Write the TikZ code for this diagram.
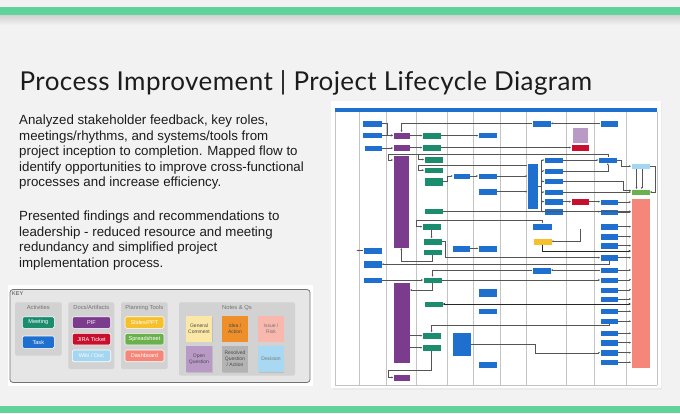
\documentclass[tikz,border=0pt]{standalone}
\usepackage{fontspec}
\setmainfont{Liberation Sans}
\newfontfamily\titlefont[LetterSpace=1.6]{Lato}
\usetikzlibrary{arrows.meta,shadows}
\definecolor{bgc}{HTML}{F2F2F2}
\definecolor{grn}{HTML}{5FD39A}
\definecolor{dblue}{HTML}{1F6FCF}
\definecolor{dteal}{HTML}{1B8C6E}
\definecolor{dpurp}{HTML}{7B3C8E}
\definecolor{dred}{HTML}{C8102E}
\definecolor{dlblue}{HTML}{A4D6F2}
\definecolor{dyel}{HTML}{F6C02C}
\definecolor{dgrn}{HTML}{6AB04C}
\definecolor{dsal}{HTML}{F4877A}
\definecolor{dlil}{HTML}{B99AC6}
\definecolor{lanec}{HTML}{C4C4C4}
\definecolor{linec}{HTML}{555555}
\definecolor{txtc}{HTML}{1C1C1C}
\definecolor{keyfill}{HTML}{E6E6E6}
\definecolor{grpc}{HTML}{D2D2D2}
\definecolor{nyel}{HTML}{FBE8A6}
\definecolor{norg}{HTML}{EF8F2A}
\definecolor{npink}{HTML}{F9B8AD}
\definecolor{ngray}{HTML}{B3B3B3}
\definecolor{nblue}{HTML}{A9D9F2}
\newcommand\rbx[7]{\node[#2, minimum width={(#5-#3)*1pt}, minimum height={(#6-#4)*1pt}] (#1) at ({(#3+#5)/2},{(#4+#6)/2}) {#7};}
\tikzset{
 box/.style={draw=white, line width=0.3pt, inner sep=0pt, outer sep=0pt},
 bl/.style={box, fill=dblue}, tl/.style={box, fill=dteal}, pu/.style={box, fill=dpurp},
 rd/.style={box, fill=dred}, lbx/.style={box, fill=dlblue}, ye/.style={box, fill=dyel},
 gr/.style={box, fill=dgrn}, sa/.style={box, fill=dsal}, li/.style={box, fill=dlil},
 ln/.style={draw=linec, line width=0.35pt},
 ar/.style={ln, -{Stealth[length=2pt,width=1.8pt]}},
 thk/.style={draw=black!85, line width=0.8pt},
 lane/.style={draw=lanec, line width=0.45pt},
 kbtn/.style={draw=white, line width=0.6pt, rounded corners=1.5pt, inner sep=0pt, text=white, font=\fontsize{5.6}{6}\selectfont},
 knote/.style={inner sep=0pt, align=center, text=black!70, font=\fontsize{5}{6}\selectfont, drop shadow={shadow xshift=0.6pt, shadow yshift=-0.6pt, opacity=0.25}},
 kgrp/.style={fill=grpc, rounded corners=2pt, inner sep=0pt},
 klab/.style={text=black!55, font=\fontsize{5.8}{7}\selectfont, inner sep=0pt},
 para/.style={anchor=base west, inner sep=0pt, text=txtc, font=\fontsize{13.3}{15.7}\selectfont},
}
\begin{document}
\begin{tikzpicture}[x=1pt,y=-1pt]
\useasboundingbox (0,0) rectangle (680,413);
\fill[bgc] (0,0) rectangle (680,413);
% top and bottom bars
\fill[grn] (0,7) rectangle (680,15);
\shade[top color=black!18, bottom color=bgc] (0,15) rectangle (680,25);
\fill[grn] (0,406) rectangle (680,413);

% title
\node[anchor=base west, inner sep=0pt, text=txtc, font=\titlefont\fontsize{26}{30}\selectfont] (title) at (19.5,90.7) {Process Improvement | Project Lifecycle Diagram};

% paragraphs
\node[para] (t1) at (19,124.5) {Analyzed stakeholder feedback, key roles,};
\node[para] (t2) at (19,140.1) {meetings/rhythms, and systems/tools from};
\node[para] (t3) at (19,155.7) {project inception to completion. Mapped flow to};
\node[para] (t4) at (19,171.3) {identify opportunities to improve cross-functional};
\node[para] (t5) at (19,186.9) {processes and increase efficiency.};
\node[para] (t6) at (19,220.5) {Presented findings and recommendations to};
\node[para] (t7) at (19,236.1) {leadership - reduced resource and meeting};
\node[para] (t8) at (19,251.7) {redundancy and simplified project};
\node[para] (t9) at (19,267.3) {implementation process.};

% ---------- KEY ----------
\fill[white] (8,285) rectangle (313,386);
\draw[fill=keyfill, draw=black!55, line width=0.8pt, rounded corners=3pt] (10,289.5) rectangle (310,382.5);
\node[anchor=west, inner sep=0pt, text=black!75, font=\fontsize{5.5}{6}\selectfont] (keylab) at (12,293.8) {KEY};
\fill[kgrp] (15,302.3) rectangle (61.7,355.7);
\fill[kgrp] (68.3,302.3) rectangle (114.3,369);
\fill[kgrp] (121,302.3) rectangle (167.7,369);
\fill[kgrp] (179,302.3) rectangle (295,375.7);
\node[klab] (l1) at (38.3,307.7) {Activities};
\node[klab] (l2) at (91.3,307.7) {Docs/Artifacts};
\node[klab] (l3) at (144.3,307.7) {Planning Tools};
\node[klab] (l4) at (237,307.7) {Notes \& Qs};
\rbx{kmeet}{kbtn, fill=dteal}{22.3}{316.7}{54.3}{328.3}{Meeting}
\rbx{ktask}{kbtn, fill=dblue}{22.3}{336}{54.3}{348.3}{Task}
\rbx{kpif}{kbtn, fill=dpurp}{72.3}{316.7}{110.7}{328.3}{PIF}
\rbx{kjira}{kbtn, fill=dred}{72.3}{333.3}{110.7}{345}{JIRA Ticket}
\rbx{kwiki}{kbtn, fill=dlblue}{72.3}{350}{110.7}{361.7}{Wiki / Doc}
\rbx{kslide}{kbtn, fill=dyel}{125}{316.7}{164}{328.3}{Slides/PPT}
\rbx{ksheet}{kbtn, fill=dgrn}{125}{333.3}{164}{345}{Spreadsheet}
\rbx{kdash}{kbtn, fill=dsal}{125}{350}{164}{361.7}{Dashboard}
\rbx{ngen}{knote, fill=nyel}{186}{316}{212}{341.7}{General\\Comment}
\rbx{nidea}{knote, fill=norg}{222.3}{316}{247.7}{341.7}{Idea /\\Action}
\rbx{nissue}{knote, fill=npink, text=black!55}{258.3}{316}{283.7}{341.7}{Issue /\\Risk}
\rbx{nopen}{knote, fill=dlil}{186}{345.7}{212}{372.3}{Open\\Question}
\rbx{nres}{knote, fill=ngray}{222.3}{345.7}{247.7}{372.3}{Resolved\\Question\\/ Action}
\rbx{ndec}{knote, fill=nblue, text=black!55}{258.3}{345.7}{283.7}{372.3}{Decision}

% ---------- DIAGRAM ----------
\fill[black!8] (332.5,102.5) rectangle (662,389.5);
\fill[white] (331,101) rectangle (660.5,388);
\fill[dblue] (335,107.7) rectangle (657,111.7);
\foreach \x in {335,359.2,386.5,415.8,447.4,473.4,499.8,525.8,566,594.5,625.9,657}
  \draw[lane] (\x,111.7) -- (\x,385);
\draw[lane] (335,385) -- (657,385);

% lane 2
\rbx{a1}{bl}{362}{120}{382}{126.7}{}
\rbx{a2}{bl}{362}{132.3}{382}{138.3}{}
\rbx{a3}{bl}{364}{145}{382}{151}{}
\rbx{a4}{bl}{362.7}{246.7}{381.7}{254.3}{}
\rbx{a5}{bl}{362.7}{260}{381.7}{268.3}{}
\rbx{a6}{bl}{362.7}{276.7}{381.7}{283.3}{}
% lane 3
\rbx{p1}{pu}{393}{132}{410}{139}{}
\rbx{p2}{pu}{393}{144.3}{410}{150.7}{}
\rbx{p3}{pu}{393}{155}{409.5}{248}{}
\rbx{p4}{pu}{393.3}{281.7}{410}{362.7}{}
\rbx{p5}{pu}{393.3}{373.7}{410}{381}{}
% lane 4
\rbx{g1}{tl}{422.3}{132.3}{441}{139}{}
\rbx{g2}{tl}{422.3}{144.3}{441}{150.7}{}
\rbx{g3}{tl}{424}{156.3}{442.7}{162.7}{}
\rbx{g4}{tl}{424}{167}{442.7}{173.3}{}
\rbx{g5}{tl}{424}{177.3}{442.7}{186}{}
\rbx{g6}{tl}{424}{208.3}{442.7}{214.3}{}
\rbx{g7}{tl}{422.3}{223.3}{441}{230}{}
\rbx{g8}{tl}{422.7}{238.3}{441.7}{245}{}
\rbx{g9}{tl}{422.7}{249}{441.7}{255}{}
\rbx{g10}{tl}{423}{276.7}{442}{283.3}{}
\rbx{g11}{tl}{424}{300.7}{442.7}{307.3}{}
\rbx{g12}{tl}{422.3}{332.3}{441}{339}{}
\rbx{g13}{tl}{422.3}{344.3}{441}{351}{}
% lane 5
\rbx{c1}{bl}{452.7}{172.7}{470}{179.3}{}
\rbx{c2}{bl}{451.7}{245}{470}{251.7}{}
\rbx{c3}{bl}{451.7}{331.7}{470.7}{355.7}{}
% lane 6
\rbx{d1}{bl}{478.3}{132.3}{497.3}{138.3}{}
\rbx{d2}{bl}{478}{172.7}{497}{179.3}{}
\rbx{d3}{bl}{478}{188.3}{497}{195}{}
\rbx{d4}{bl}{478.3}{245}{497.3}{251.7}{}
\rbx{d5}{bl}{478.3}{288.3}{497.3}{296.7}{}
\rbx{d6}{bl}{478.3}{308.3}{497.3}{314.3}{}
\rbx{d7}{bl}{478.3}{361}{497.3}{367.7}{}
% lane 8
\rbx{e1}{bl}{531.7}{120}{551}{126.7}{}
\rbx{e2}{bl}{527.3}{163.3}{538.3}{209}{}
\rbx{e3}{bl}{544.3}{156.7}{563.3}{163.3}{}
\rbx{e4}{bl}{544.3}{167.7}{563.3}{174}{}
\rbx{e5}{bl}{544.3}{178.3}{563.3}{184.3}{}
\rbx{e6}{bl}{544.3}{189}{563.3}{195}{}
\rbx{e7}{bl}{544.3}{198.3}{563.3}{205}{}
\rbx{e8}{bl}{544.3}{208.3}{563.3}{215}{}
\rbx{e9}{bl}{532.3}{223.3}{551.7}{230}{}
\rbx{e10}{ye}{532.7}{237.7}{551.7}{244.7}{}
\rbx{e11}{bl}{532.3}{266.7}{551}{274.3}{}
% lane 9
\rbx{f1}{li}{571.7}{126.7}{588.3}{143.3}{}
\rbx{f2}{rd}{571}{144.3}{589.3}{150.7}{}
\rbx{f3}{rd}{571}{198.3}{589.3}{205}{}
% lane 10
\rbx{h1}{bl}{600}{120}{618.3}{126.7}{}
\rbx{h2}{bl}{598.3}{156.7}{617.3}{163.3}{}
\rbx{h3}{bl}{600}{199}{618.3}{205}{}
\rbx{h4}{bl}{600}{209}{618.3}{215}{}
\rbx{h5}{bl}{600}{223.3}{618.3}{230}{}
\rbx{h6}{bl}{600}{233.3}{618.3}{240}{}
\rbx{h7}{bl}{600}{242.3}{618.3}{249}{}
\rbx{h8}{bl}{600}{254.3}{618.3}{261}{}
\rbx{h9}{bl}{600}{267}{618.3}{273}{}
\rbx{h10}{bl}{600}{276.7}{618.3}{282.7}{}
\rbx{h11}{bl}{600}{286.7}{618.3}{292.7}{}
\rbx{h12}{bl}{600}{296}{618.3}{302}{}
\rbx{h13}{bl}{600}{308.3}{618.3}{314.3}{}
\rbx{h14}{bl}{600}{318.3}{618.3}{324.3}{}
\rbx{h15}{bl}{600}{330.3}{618.3}{336.3}{}
\rbx{h16}{bl}{600}{339.3}{618.3}{346}{}
\rbx{h17}{bl}{600}{349.3}{618.3}{356}{}
\rbx{h18}{bl}{600}{359.3}{618.3}{365.3}{}
% lane 11
\rbx{k1}{lbx}{631}{163.3}{650}{169}{}
\rbx{k2}{gr}{631}{189}{650}{195}{}
\rbx{k3}{sa}{631}{198.3}{650}{367.7}{}

% connectors
\coordinate (w1) at (388,154.3);
\coordinate (w2) at (418,154.3);
\coordinate (w3) at (418,165);
\coordinate (w4) at (416,220);
\coordinate (lbl) at (580,228.5);
\coordinate (y251) at (0,251);
\coordinate (w6) at (388.3,370);
\coordinate (w7) at (535,352.7);
\coordinate (br) at (541.3,186);

\draw[ar] (a1.east) -- ++(5,0) |- (p1.west);
\draw[ar] (a2.east) -- (a2.east -| p1.west);
\draw[ar] (a3.east) -- (a3.east -| p2.west);
\draw[ar] (p1.east) -- (p1.east -| g1.west);
\draw[ar] (p2.east) -- (p2.east -| g2.west);
\draw[ar] (g1.east) -- (g1.east -| d1.west);
\draw[ar] (h1.west) -- (h1.west -| e1.east);
\draw[ar] (e1.west) -| (p1.north);
\draw[ar] (g2.east) -- (g2.east -| f2.west);

\draw[ln] (h2.north) |- (w1);
\draw[ar] (w1) |- ([yshift=-5pt]p3.north west);
\draw[ar] (w2) |- (g3.west);
\draw[ar] ([yshift=-1.7pt]e2.north west) -- (w3) |- (g4.west);

\draw[ar] (g5.east) -- ++(4,0) |- (c1.west);
\draw[ar] (c1.east) -- (c1.east -| d2.west);
\draw[ar] (d2.east) -- (d2.east -| e2.west);
\draw[ar] (d3.east) -- (d3.east -| e2.west);
\draw[ar] (c2.east) -- (c2.east -| d4.west);

\draw[ln] (e2.east |- br) -- (br);
\draw[ln] (e3.west -| br) -- (e8.west -| br);
\foreach \n in {e3,e4,e5,e6,e7,e8} \draw[ar] (\n.west -| br) -- (\n.west);

\draw[ar] (e3.east) -- (e3.east -| h2.west);
\draw[ar] (e4.east) -| (h2.south);
\draw[ar] (h2.east) -- ++(4,0) |- (k1.west);
\draw[ar] (e5.east) -- ++(60,0) |- ([yshift=1.5pt]k2.west);
\draw[ar] (e6.east) -- (e6.east -| k2.west);
\draw[ar] (e7.east) -- (e7.east -| f3.west);
\draw[ar] (f3.east) -- (f3.east -| h3.west);
\draw[ar] (e8.east) -- (e8.east -| h4.west);
\draw[ar] ([xshift=-4pt]k1.south) -- ([xshift=-4pt]k2.north);
\draw[ar] ([xshift=1.2pt]k1.south) -- ([xshift=1.2pt]k2.north);
\draw[ar] (k1.east) -- ++(5.5,0) |- (k2.east);

\foreach \n in {h3,h4,h5,h6,h7,h8,h9,h10,h11,h12,h13,h14,h15,h16,h17,h18}
  \draw[ar] (\n.east) -- (\n.east -| k3.west);

\draw[ar] (g6.east) -- (g6.east -| k3.west);
\draw[ar] (e9.north) |- (w4) |- (g7.west);
\draw[ar] (g7.south) -- (g7.south |- g8.north);
\draw[ar] (g8.east) -- ++(3,0) |- (h8.west);
\draw[ar] (lbl) |- (e10.east);
\draw[thk, -{Stealth[length=2.6pt,width=2.4pt]}] (e10.south) |- (k3.west |- y251);

\draw[ar] (h8.south) |- (a5.east);
\draw[ar] (a4.west) -- ++(-6,0);
\draw[ar] (a6.east) -- (a6.east -| g10.west);
\draw[ar] (g10.east) -- (g10.east -| h10.west);
\draw[ar] (e11.west) -| (g10.north);
\draw[ar] (h9.west) -- (h9.west -| e11.east);
\draw[ar] (g10.south) |- ([yshift=-8.3pt]p4.north east);
\draw[ar] (g9.south) -- ++(0,6) -| (p3.south);
\draw[thk, {Stealth[length=2.6pt,width=2.4pt]}-{Stealth[length=2.6pt,width=2.4pt]}] (g11.east) -- (g11.east -| k3.west);
\draw[ar] (h14.south) -- ++(0,0.8) -| (g12.north);
\draw[ar] (g12.west -| p4.east) -- (g12.west);
\draw[ar] (g13.west -| p4.east) -- (g13.west);
\draw[ar] (g13.south) |- (w6) |- (p5.west);
\draw[ar] (c3.east) -| (w7) -- (w7 -| h17.west);
\end{tikzpicture}
\end{document}
